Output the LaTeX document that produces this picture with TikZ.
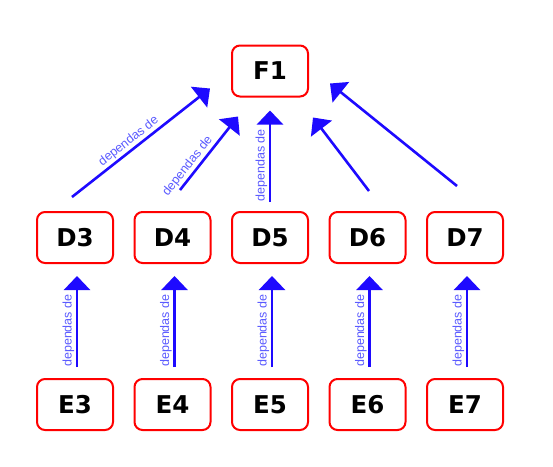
\documentclass[tikz,border=0pt]{standalone}
\usepackage{fontspec}
\setmainfont{Liberation Sans}
\newfontfamily\boxfont{DejaVu Sans}
\usepackage{tikz}
\usetikzlibrary{arrows.meta,positioning}

\definecolor{boxred}{RGB}{255,0,0}
\definecolor{arrblue}{RGB}{30,10,255}
\definecolor{lblblue}{RGB}{90,90,255}

\begin{document}
\begin{tikzpicture}[
  x=1pt, y=-1pt,
  node distance=114pt and 19.5pt,
  modbox/.style={
    rectangle, rounded corners=8pt,
    minimum width=76pt, minimum height=51pt,
    text height=17.5pt, text depth=0pt,
    draw=boxred, line width=2pt, fill=white,
    font=\boxfont\fontsize{24.5}{25}\selectfont\bfseries
  },
  dep/.style={-{Triangle[length=14pt,width=26pt]}, line width=2.6pt, draw=arrblue},
  deplabel/.style={sloped, above, pos=0.4, inner sep=1.5pt,
    text=lblblue, font=\fontsize{12.5}{12.5}\selectfont}
]
\useasboundingbox (0,0) rectangle (553,466);
% Top
\node[modbox] (F1) at (270,71) {F1};
% Middle row
\node[modbox] (D3) at (75,237.5) {D3};
\node[modbox] (D4) [right=of D3] {D4};
\node[modbox] (D5) [right=of D4] {D5};
\node[modbox] (D6) [right=of D5] {D6};
\node[modbox] (D7) [right=of D6] {D7};
% Bottom row
\node[modbox] (E3) [below=of D3] {E3};
\node[modbox] (E4) [below=of D4] {E4};
\node[modbox] (E5) [below=of D5] {E5};
\node[modbox] (E6) [below=of D6] {E6};
\node[modbox] (E7) [below=of D7] {E7};
% Arrows E -> D
\foreach \k in {3,...,7}{
  \draw[dep] ([xshift=2pt,yshift=11pt]E\k.north) -- ([xshift=2pt,yshift=-12pt]D\k.south)
    node[deplabel] {dependas de};
}
% Arrows D -> F1
\draw[dep] ([xshift=-3pt,yshift=14pt]D3.north) -- ([xshift=-21pt,yshift=9pt]F1.south west)
  node[deplabel, pos=0.45] {dependas de};
\draw[dep] ([xshift=7.5pt,yshift=21pt]D4.north) -- ([xshift=-32pt,yshift=-19pt]F1.south)
  node[deplabel, pos=0.25] {dependas de};
\draw[dep] ([yshift=9pt]D5.north) -- ([yshift=-13pt]F1.south)
  node[deplabel] {dependas de};
\draw[dep] ([xshift=1.5pt,yshift=20pt]D6.north) -- ([xshift=43pt,yshift=-20pt]F1.south);
\draw[dep] ([xshift=-8pt,yshift=25pt]D7.north) -- ([xshift=21pt,yshift=14pt]F1.south east);
\end{tikzpicture}
\end{document}
